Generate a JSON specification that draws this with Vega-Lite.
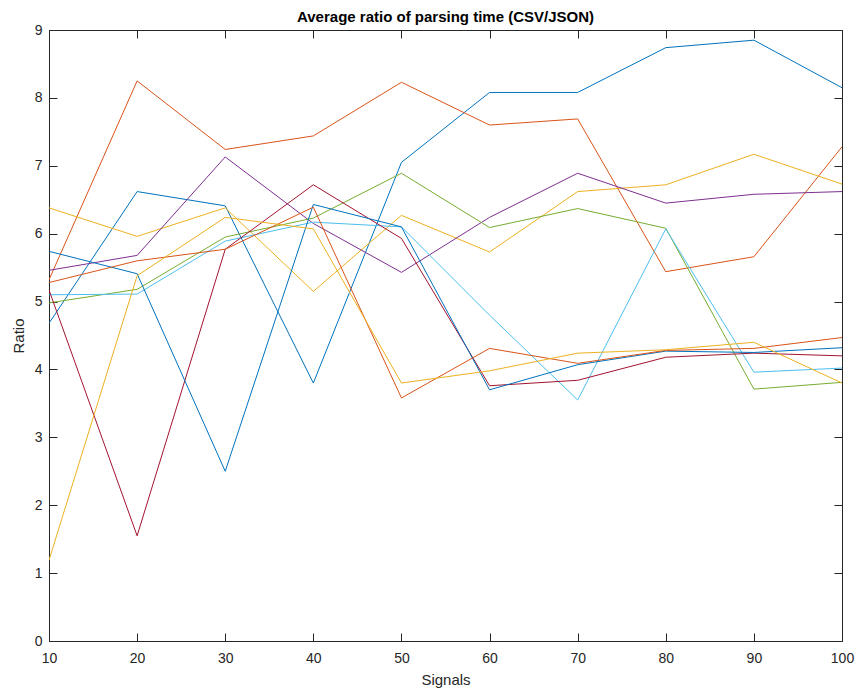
{
  "$schema": "https://vega.github.io/schema/vega-lite/v6.json",
  "width": 793,
  "height": 611,
  "autosize": {"type": "none"},
  "padding": {"left": 49, "top": 30, "right": 16, "bottom": 49},
  "background": "white",
  "config": {
    "view": {"stroke": null},
    "font": "Liberation Sans",
    "axis": {
      "domainColor": "#262626",
      "tickColor": "#262626",
      "labelColor": "#262626",
      "titleColor": "#262626",
      "grid": false,
      "labelFont": "Liberation Sans",
      "titleFont": "Liberation Sans",
      "labelFontSize": 14,
      "titleFontSize": 15,
      "titleFontWeight": "normal",
      "tickSize": -8,
      "domainWidth": 1,
      "tickWidth": 1,
      "labelFlush": false,
      "labelOverlap": false
    }
  },
  "title": {
    "text": "Average ratio of parsing time (CSV/JSON)",
    "font": "Liberation Sans",
    "fontSize": 15,
    "fontWeight": "bold",
    "color": "#000000",
    "anchor": "middle",
    "offset": -2
  },
  "data": {
    "values": [
      {"series": "s1", "signals": 10, "ratio": 4.68}, {"series": "s1", "signals": 20, "ratio": 6.62}, {"series": "s1", "signals": 30, "ratio": 6.41}, {"series": "s1", "signals": 40, "ratio": 3.80}, {"series": "s1", "signals": 50, "ratio": 7.05}, {"series": "s1", "signals": 60, "ratio": 8.08}, {"series": "s1", "signals": 70, "ratio": 8.08}, {"series": "s1", "signals": 80, "ratio": 8.74}, {"series": "s1", "signals": 90, "ratio": 8.85}, {"series": "s1", "signals": 100, "ratio": 8.15},
      {"series": "s2", "signals": 10, "ratio": 5.32}, {"series": "s2", "signals": 20, "ratio": 8.25}, {"series": "s2", "signals": 30, "ratio": 7.24}, {"series": "s2", "signals": 40, "ratio": 7.44}, {"series": "s2", "signals": 50, "ratio": 8.23}, {"series": "s2", "signals": 60, "ratio": 7.60}, {"series": "s2", "signals": 70, "ratio": 7.69}, {"series": "s2", "signals": 80, "ratio": 5.44}, {"series": "s2", "signals": 90, "ratio": 5.66}, {"series": "s2", "signals": 100, "ratio": 7.28},
      {"series": "s3", "signals": 10, "ratio": 6.38}, {"series": "s3", "signals": 20, "ratio": 5.96}, {"series": "s3", "signals": 30, "ratio": 6.38}, {"series": "s3", "signals": 40, "ratio": 5.15}, {"series": "s3", "signals": 50, "ratio": 6.27}, {"series": "s3", "signals": 60, "ratio": 5.73}, {"series": "s3", "signals": 70, "ratio": 6.62}, {"series": "s3", "signals": 80, "ratio": 6.72}, {"series": "s3", "signals": 90, "ratio": 7.17}, {"series": "s3", "signals": 100, "ratio": 6.73},
      {"series": "s4", "signals": 10, "ratio": 5.46}, {"series": "s4", "signals": 20, "ratio": 5.68}, {"series": "s4", "signals": 30, "ratio": 7.13}, {"series": "s4", "signals": 40, "ratio": 6.15}, {"series": "s4", "signals": 50, "ratio": 5.43}, {"series": "s4", "signals": 60, "ratio": 6.24}, {"series": "s4", "signals": 70, "ratio": 6.89}, {"series": "s4", "signals": 80, "ratio": 6.45}, {"series": "s4", "signals": 90, "ratio": 6.58}, {"series": "s4", "signals": 100, "ratio": 6.62},
      {"series": "s5", "signals": 10, "ratio": 4.98}, {"series": "s5", "signals": 20, "ratio": 5.18}, {"series": "s5", "signals": 30, "ratio": 5.95}, {"series": "s5", "signals": 40, "ratio": 6.23}, {"series": "s5", "signals": 50, "ratio": 6.89}, {"series": "s5", "signals": 60, "ratio": 6.09}, {"series": "s5", "signals": 70, "ratio": 6.37}, {"series": "s5", "signals": 80, "ratio": 6.08}, {"series": "s5", "signals": 90, "ratio": 3.71}, {"series": "s5", "signals": 100, "ratio": 3.81},
      {"series": "s6", "signals": 10, "ratio": 5.10}, {"series": "s6", "signals": 20, "ratio": 5.11}, {"series": "s6", "signals": 30, "ratio": 5.89}, {"series": "s6", "signals": 40, "ratio": 6.17}, {"series": "s6", "signals": 50, "ratio": 6.10}, {"series": "s6", "signals": 60, "ratio": 4.80}, {"series": "s6", "signals": 70, "ratio": 3.55}, {"series": "s6", "signals": 80, "ratio": 6.07}, {"series": "s6", "signals": 90, "ratio": 3.96}, {"series": "s6", "signals": 100, "ratio": 4.02},
      {"series": "s7", "signals": 10, "ratio": 5.17}, {"series": "s7", "signals": 20, "ratio": 1.55}, {"series": "s7", "signals": 30, "ratio": 5.77}, {"series": "s7", "signals": 40, "ratio": 6.72}, {"series": "s7", "signals": 50, "ratio": 5.93}, {"series": "s7", "signals": 60, "ratio": 3.76}, {"series": "s7", "signals": 70, "ratio": 3.84}, {"series": "s7", "signals": 80, "ratio": 4.18}, {"series": "s7", "signals": 90, "ratio": 4.24}, {"series": "s7", "signals": 100, "ratio": 4.20},
      {"series": "s8", "signals": 10, "ratio": 5.74}, {"series": "s8", "signals": 20, "ratio": 5.41}, {"series": "s8", "signals": 30, "ratio": 2.50}, {"series": "s8", "signals": 40, "ratio": 6.43}, {"series": "s8", "signals": 50, "ratio": 6.10}, {"series": "s8", "signals": 60, "ratio": 3.70}, {"series": "s8", "signals": 70, "ratio": 4.07}, {"series": "s8", "signals": 80, "ratio": 4.27}, {"series": "s8", "signals": 90, "ratio": 4.25}, {"series": "s8", "signals": 100, "ratio": 4.32},
      {"series": "s9", "signals": 10, "ratio": 5.28}, {"series": "s9", "signals": 20, "ratio": 5.60}, {"series": "s9", "signals": 30, "ratio": 5.77}, {"series": "s9", "signals": 40, "ratio": 6.39}, {"series": "s9", "signals": 50, "ratio": 3.58}, {"series": "s9", "signals": 60, "ratio": 4.31}, {"series": "s9", "signals": 70, "ratio": 4.09}, {"series": "s9", "signals": 80, "ratio": 4.28}, {"series": "s9", "signals": 90, "ratio": 4.31}, {"series": "s9", "signals": 100, "ratio": 4.47},
      {"series": "s10", "signals": 10, "ratio": 1.19}, {"series": "s10", "signals": 20, "ratio": 5.38}, {"series": "s10", "signals": 30, "ratio": 6.24}, {"series": "s10", "signals": 40, "ratio": 6.07}, {"series": "s10", "signals": 50, "ratio": 3.80}, {"series": "s10", "signals": 60, "ratio": 3.98}, {"series": "s10", "signals": 70, "ratio": 4.24}, {"series": "s10", "signals": 80, "ratio": 4.29}, {"series": "s10", "signals": 90, "ratio": 4.40}, {"series": "s10", "signals": 100, "ratio": 3.80}
    ]
  },
  "layer": [
    {
      "mark": {"type": "line", "strokeWidth": 1, "clip": true},
      "encoding": {
        "x": {
          "field": "signals", "type": "quantitative",
          "scale": {"domain": [10, 100], "nice": false, "zero": false},
          "axis": {"orient": "bottom", "title": "Signals", "values": [10, 20, 30, 40, 50, 60, 70, 80, 90, 100], "labelPadding": 18, "titlePadding": 7}
        },
        "y": {
          "field": "ratio", "type": "quantitative",
          "scale": {"domain": [0, 9], "nice": false, "zero": true},
          "axis": {"orient": "left", "title": "Ratio", "values": [0, 1, 2, 3, 4, 5, 6, 7, 8, 9], "labelPadding": 15, "titlePadding": 8}
        },
        "color": {
          "field": "series", "type": "nominal", "legend": null,
          "scale": {
            "domain": ["s1", "s2", "s3", "s4", "s5", "s6", "s7", "s8", "s9", "s10"],
            "range": ["#0072BD", "#D95319", "#EDB120", "#7E2F8E", "#77AC30", "#4DBEEE", "#A2142F", "#0072BD", "#D95319", "#EDB120"]
          }
        },
        "order": {"field": "signals", "type": "quantitative"}
      }
    },
    {
      "mark": {"type": "line", "opacity": 0},
      "encoding": {
        "x": {
          "field": "signals", "type": "quantitative",
          "axis": {"orient": "top", "title": null, "labels": false, "values": [10, 20, 30, 40, 50, 60, 70, 80, 90, 100]}
        },
        "y": {
          "field": "ratio", "type": "quantitative",
          "axis": {"orient": "right", "title": null, "labels": false, "values": [0, 1, 2, 3, 4, 5, 6, 7, 8, 9]}
        },
        "detail": {"field": "series", "type": "nominal"}
      }
    }
  ],
  "resolve": {"axis": {"x": "independent", "y": "independent"}}
}
